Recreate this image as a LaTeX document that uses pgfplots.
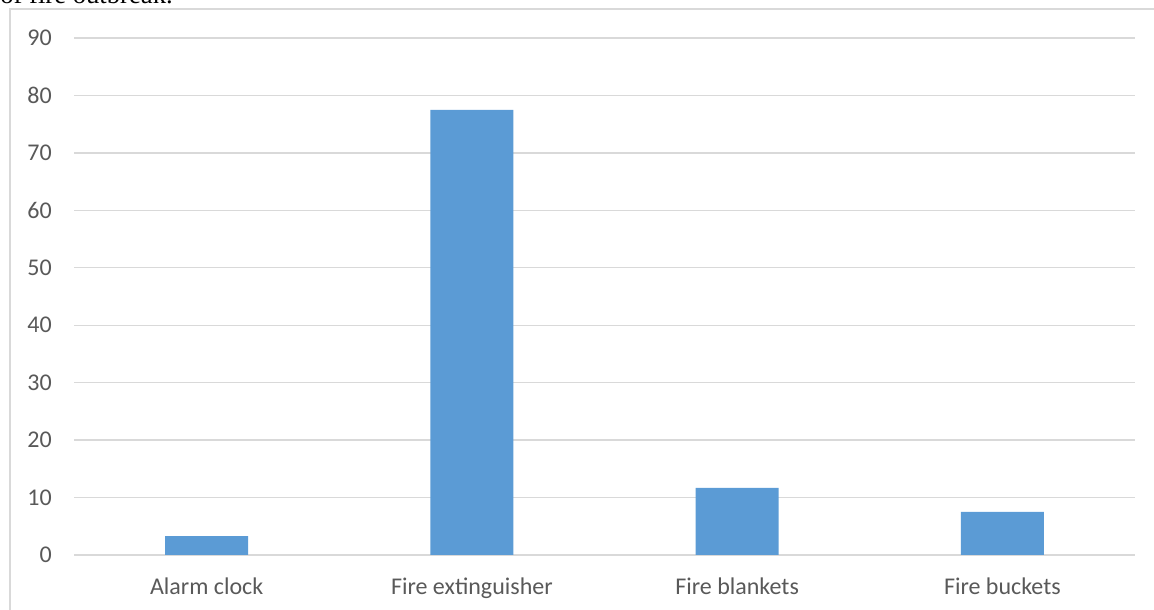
\documentclass[border=0pt]{standalone}
\usepackage{pgfplots}
\pgfplotsset{compat=1.18}
\usepackage{fontspec}
\setmainfont{Carlito}
\newfontfamily\seriffont{Liberation Serif}
\definecolor{barblue}{HTML}{5B9BD5}
\definecolor{gridgray}{HTML}{D9D9D9}
\definecolor{textgray}{HTML}{595959}
\begin{document}
\begin{tikzpicture}
\path[use as bounding box, clip] (0pt,0pt) rectangle (865.5pt,457.5pt);
\node[anchor=base west, inner sep=0pt, font=\seriffont\fontsize{20}{24}\selectfont] at (0pt,454.5pt) {of fire outbreak.};
\draw[gridgray, line width=0.9pt] (7.5pt,-10pt) -- (7.5pt,450.75pt) -- (880pt,450.75pt);
\begin{axis}[
  at={(55.5pt,41.25pt)}, anchor=south west,
  scale only axis, width=795.75pt, height=387.75pt,
  xmin=-0.5, xmax=3.5, ymin=0, ymax=90,
  ytick={0,10,...,90},
  xtick={0,1,2,3},
  xticklabels={Alarm clock, Fire extinguisher, Fire blankets, Fire buckets},
  axis line style={draw=none},
  major tick length=0pt,
  ymajorgrids,
  grid style={gridgray, line width=1pt},
  /pgf/number format/assume math mode=true,
  tick label style={font=\fontsize{18}{21}\selectfont, text=textgray},
  yticklabel style={inner sep=0pt, anchor=east, xshift=-16.5pt},
  xticklabel style={inner sep=0pt, anchor=north, yshift=-17pt},
  ybar, bar width=62.25pt,
  clip=false,
]
\addplot[fill=barblue, draw=none] coordinates {(0,3.3) (1,77.5) (2,11.7) (3,7.5)};
\end{axis}
\end{tikzpicture}
\end{document}
